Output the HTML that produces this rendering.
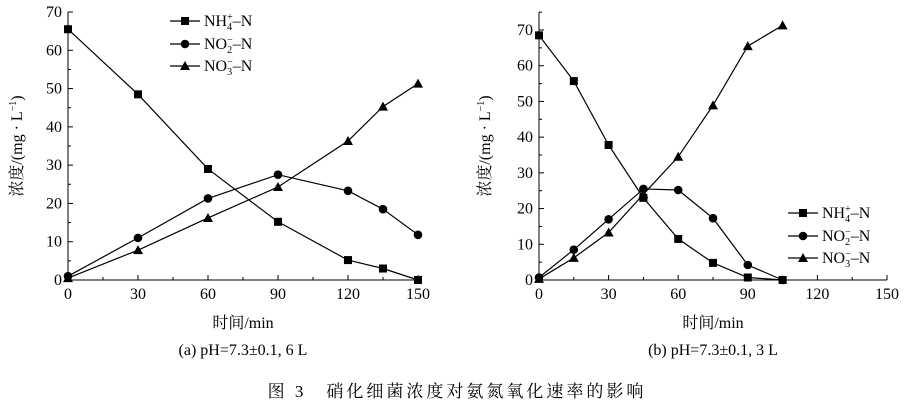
<!DOCTYPE html>
<html><head><meta charset="utf-8"><style>
body{margin:0;background:#fff;width:908px;height:412px;overflow:hidden}
svg{display:block}
text{font-family:"Liberation Serif","Noto Serif CJK SC",serif;fill:#000}
</style></head><body>
<svg id="s" width="908" height="412" xmlns="http://www.w3.org/2000/svg"></svg>
<script>
const S=document.getElementById('s');let h='';
function chart(x0,x1,y0,ytop,ymaxv,ydiv,xmax,xticks,yticks,data,legend,ylabX){
 const sx=v=>x0+(v/xmax)*(x1-x0), sy=v=>y0-v*ydiv;
 h+=`<line x1="${x0}" y1="${y0}" x2="${x1}" y2="${y0}" stroke="#000" stroke-width="1"/>`;
 h+=`<line x1="${x0}" y1="${y0}" x2="${x0}" y2="${ytop}" stroke="#000" stroke-width="1"/>`;
 for(let v=0;v<=xmax;v+=15){const x=sx(v);const major=v%30==0;h+=`<line x1="${x}" y1="${y0}" x2="${x}" y2="${y0-(major?5:3)}" stroke="#000"/>`;if(major)h+=`<text x="${x}" y="${y0+19}" font-size="16" text-anchor="middle">${v}</text>`;}
 for(let v=0;v<=ymaxv;v+=5){const y=sy(v);if(y<ytop-1)break;const major=v%10==0;h+=`<line x1="${x0}" y1="${y}" x2="${x0+(major?5:3)}" y2="${y}" stroke="#000"/>`;if(major)h+=`<text x="${x0-6}" y="${y+5}" font-size="16" text-anchor="end">${v}</text>`;}
 h+=`<text transform="translate(${ylabX},${(y0+ytop)/2}) rotate(-90)" font-size="16" text-anchor="middle">浓度/(mg · L<tspan dy="-6" font-size="10">−1</tspan><tspan dy="6">)</tspan></text>`;
 h+=`<text x="${(x0+x1)/2}" y="${y0+48}" font-size="16" text-anchor="middle">时间/min</text>`;
 data.forEach((d,i)=>{const pts=d.map(p=>sx(p[0])+','+sy(p[1])).join(' ');h+=`<polyline points="${pts}" fill="none" stroke="#000" stroke-width="1.2"/>`;d.forEach(p=>h+=mk(i,sx(p[0]),sy(p[1])));});
 legend.forEach((l,i)=>{const lx=l[0],ly=l[1];h+=`<line x1="${lx}" y1="${ly}" x2="${lx+30}" y2="${ly}" stroke="#000" stroke-width="1.2"/>`+mk(i,lx+15,ly);
 const sub=['<tspan>NH</tspan><tspan dy="4" font-size="10">4</tspan><tspan dy="-10" font-size="10" dx="-5">+</tspan><tspan dy="6">–N</tspan>','<tspan>NO</tspan><tspan dy="4" font-size="10">2</tspan><tspan dy="-10" font-size="10" dx="-5">−</tspan><tspan dy="6">–N</tspan>','<tspan>NO</tspan><tspan dy="4" font-size="10">3</tspan><tspan dy="-10" font-size="10" dx="-5">−</tspan><tspan dy="6">–N</tspan>'][i];
 h+=`<text x="${lx+34}" y="${ly+5}" font-size="16">${sub}</text>`;});
}
function mk(i,x,y){if(i==0)return `<rect x="${x-4}" y="${y-4}" width="8" height="8" fill="#000"/>`;if(i==1)return `<circle cx="${x}" cy="${y}" r="4.3" fill="#000"/>`;return `<polygon points="${x},${y-5} ${x-5},${y+4} ${x+5},${y+4}" fill="#000"/>`;}
chart(68,418,280,12,70,268/70,150,0,0,[
[[0,65.5],[30,48.5],[60,29],[90,15.2],[120,5.2],[135,3],[150,0]],
[[0,1],[30,11],[60,21.3],[90,27.5],[120,23.3],[135,18.5],[150,11.8]],
[[0,0.5],[30,7.8],[60,16.2],[90,24.3],[120,36.3],[135,45.3],[150,51.3]]],
[[170,21],[170,44],[170,66]],22);
chart(539,887,280,12,75,250/70,150,0,0,[
[[0,68.5],[15,55.7],[30,37.8],[45,23],[60,11.5],[75,4.8],[90,0.7],[105,0]],
[[0,0.7],[15,8.5],[30,17],[45,25.5],[60,25.2],[75,17.3],[90,4.2],[105,0]],
[[0,0.3],[15,6.2],[30,13.3],[45,24],[60,34.5],[75,48.9],[90,65.5],[105,71.3]]],
[[788,213],[788,236],[788,258]],490);
h+=`<text x="243" y="355" font-size="16" text-anchor="middle">(a) pH=7.3±0.1, 6 L</text>`;
h+=`<text x="713" y="355" font-size="16" text-anchor="middle">(b) pH=7.3±0.1, 3 L</text>`;
h+=`<text x="457" y="397" font-size="17" text-anchor="middle" letter-spacing="3">图 3　硝化细菌浓度对氨氮氧化速率的影响</text>`;
S.innerHTML=h;
</script>
</body></html>
